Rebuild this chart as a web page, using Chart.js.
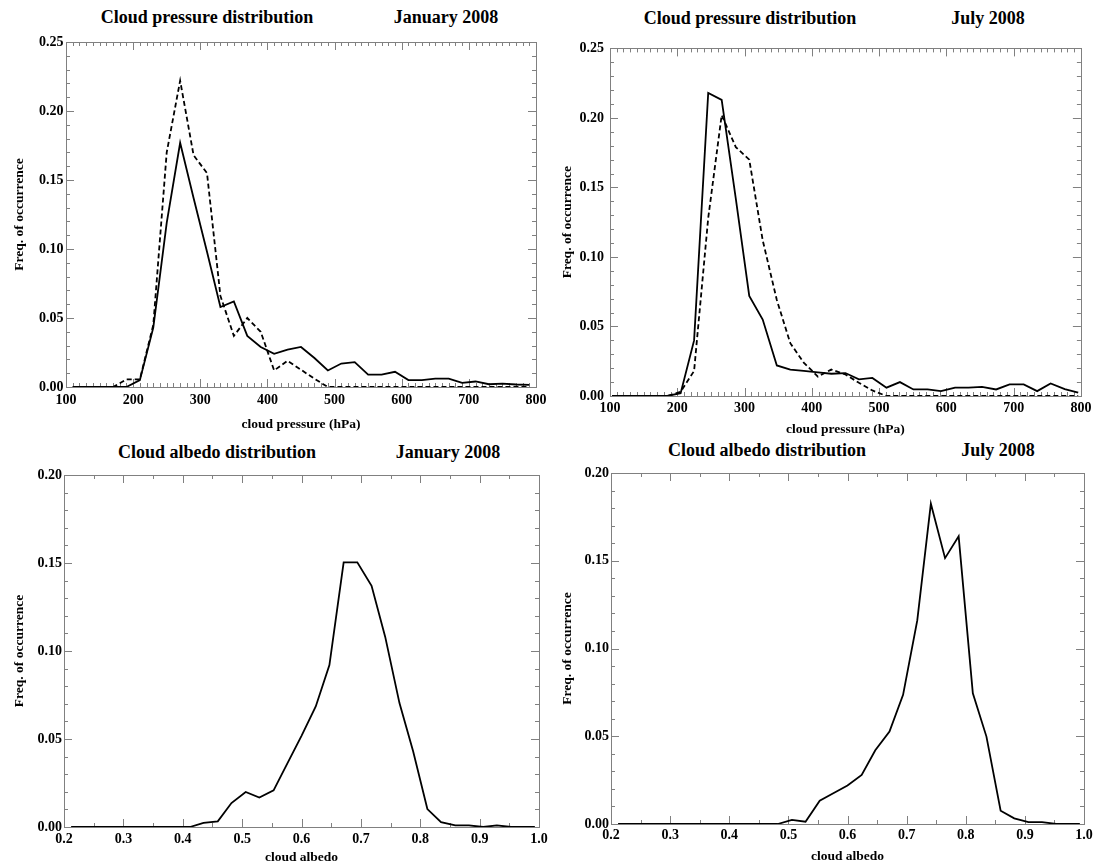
<!DOCTYPE html>
<html lang="en">
<head>
<meta charset="UTF-8">
<title>Cloud pressure / albedo distribution 2008</title>
<script src="https://cdn.jsdelivr.net/npm/chart.js"></script>
<style>
  body { margin: 0; background: #fff; overflow: hidden; width: 1097px; height: 866px; }
  canvas.panel { position: absolute; }
  .title {
    position: absolute;
    font: bold 18px "Liberation Serif", "Times New Roman", serif;
    white-space: nowrap;
    transform: translate(-50%, -50%);
    color: #000;
  }
</style>
</head>
<body>

<div class="title" style="left:207px;top:17px">Cloud pressure distribution</div>
<div class="title" style="left:446px;top:17px">January 2008</div>
<div class="title" style="left:750px;top:18px">Cloud pressure distribution</div>
<div class="title" style="left:988px;top:18px">July 2008</div>
<div class="title" style="left:217px;top:452px">Cloud albedo distribution</div>
<div class="title" style="left:448px;top:452px">January 2008</div>
<div class="title" style="left:767px;top:450px">Cloud albedo distribution</div>
<div class="title" style="left:998px;top:450px">July 2008</div>

<canvas id="pJan" class="panel" width="548" height="403" style="left:4px;top:30px"></canvas>
<canvas id="pJul" class="panel" width="547" height="404" style="left:548px;top:34px"></canvas>
<canvas id="aJan" class="panel" width="553" height="403" style="left:2px;top:463px"></canvas>
<canvas id="aJul" class="panel" width="548" height="404" style="left:549px;top:461px"></canvas>

<script>
  // ---- data ----
  const pressJanX = [110, 130, 150, 170, 190, 210, 230, 250, 270, 290, 310, 330, 350, 370, 390, 410, 430, 450,
                     470, 490, 510, 530, 550, 570, 590, 610, 630, 650, 670, 690, 710, 730, 750, 770, 790];
  const pressJanSolid = [0, 0, 0, 0, 0, 0.005, 0.043, 0.119, 0.177, 0.137, 0.098, 0.058, 0.062, 0.037, 0.029,
                         0.024, 0.027, 0.029, 0.021, 0.012, 0.017, 0.018, 0.009, 0.009, 0.011, 0.005, 0.005,
                         0.006, 0.006, 0.003, 0.004, 0.002, 0.0025, 0.0018, 0.0015];
  const pressJanDash = [0, 0, 0, 0, 0.0055, 0.0055, 0.045, 0.170, 0.222, 0.168, 0.155, 0.066, 0.037, 0.050,
                        0.040, 0.012, 0.019, 0.0125, 0.006, 0, 0, 0, 0, 0, 0, 0, 0, 0, 0, 0, 0, 0, 0, 0, 0];

  const pressJulX = [103, 123, 144, 164, 185, 205, 225, 246, 266, 287, 307, 327, 348, 368, 388, 409, 429, 450,
                     470, 490, 511, 531, 551, 572, 592, 613, 633, 653, 674, 694, 715, 735, 755, 776, 796];
  const pressJulSolid = [0, 0, 0, 0, 0, 0.002, 0.040, 0.218, 0.213, 0.142, 0.072, 0.055, 0.022, 0.019, 0.018,
                         0.017, 0.016, 0.0165, 0.012, 0.013, 0.006, 0.010, 0.0047, 0.0047, 0.0035, 0.006, 0.006,
                         0.0066, 0.0047, 0.0083, 0.0083, 0.0035, 0.009, 0.005, 0.0024];
  const pressJulDash = [0, 0, 0, 0, 0, 0.003, 0.018, 0.128, 0.202, 0.179, 0.170, 0.112, 0.069, 0.038, 0.024,
                        0.014, 0.019, 0.0155, 0.0095, 0.004, 0, 0, 0, 0, 0, 0, 0, 0, 0, 0, 0, 0, 0, 0, 0];

  const albedoX = [0.212, 0.224, 0.247, 0.271, 0.294, 0.318, 0.341, 0.365, 0.388, 0.412, 0.435, 0.459, 0.482,
                   0.506, 0.529, 0.553, 0.576, 0.600, 0.624, 0.647, 0.671, 0.694, 0.718, 0.741, 0.765, 0.788,
                   0.812, 0.835, 0.859, 0.882, 0.906, 0.929, 0.953, 0.976, 0.993];
  const albedoJan = [0, 0, 0, 0, 0, 0, 0, 0, 0, 0, 0.0023, 0.0032, 0.0136, 0.0199, 0.0167, 0.0208, 0.036,
                     0.0518, 0.0685, 0.092, 0.1504, 0.1504, 0.137, 0.108, 0.0704, 0.043, 0.0102, 0.0028,
                     0.0009, 0.0009, 0, 0.0009, 0, 0, 0];
  const albedoJul = [0, 0, 0, 0, 0, 0, 0, 0, 0, 0, 0, 0, 0, 0.0023, 0.0013, 0.0133, 0.0175, 0.0219, 0.028,
                     0.042, 0.0527, 0.0736, 0.116, 0.1825, 0.1515, 0.1639, 0.0745, 0.0498, 0.0076, 0.0032,
                     0.0011, 0.0011, 0, 0, 0];

  const serif = '"Liberation Serif", "Times New Roman", serif';
  const frameGrey = '#808080';

  // IDL style box: grey frame with inward ticks on all four sides
  const frameTicks = {
    id: 'frameTicks',
    beforeDatasetsDraw(chart, args, opts) {
      const {ctx, chartArea: a, scales: {x, y}} = chart;
      ctx.save();
      ctx.strokeStyle = frameGrey;
      ctx.lineWidth = 1;
      ctx.strokeRect(Math.round(a.left) + 0.5, Math.round(a.top) + 0.5,
                     Math.round(a.width), Math.round(a.height));
      ctx.beginPath();
      const nx = Math.round((x.max - x.min) / opts.xMinor);
      const xEvery = Math.round(opts.xMajor / opts.xMinor);
      for (let i = 0; i <= nx; i++) {
        const px = Math.round(x.getPixelForValue(x.min + i * opts.xMinor)) + 0.5;
        const len = i % xEvery === 0 ? 8 : 4;
        ctx.moveTo(px, a.bottom); ctx.lineTo(px, a.bottom - len);
        ctx.moveTo(px, a.top); ctx.lineTo(px, a.top + len);
      }
      const ny = Math.round((y.max - y.min) / opts.yMinor);
      const yEvery = Math.round(opts.yMajor / opts.yMinor);
      for (let i = 0; i <= ny; i++) {
        const py = Math.round(y.getPixelForValue(y.min + i * opts.yMinor)) + 0.5;
        const len = i % yEvery === 0 ? 8 : 4;
        ctx.moveTo(a.left, py); ctx.lineTo(a.left + len, py);
        ctx.moveTo(a.right, py); ctx.lineTo(a.right - len, py);
      }
      ctx.stroke();
      ctx.restore();
    }
  };

  function series(xs, ys, dashed) {
    return {
      data: xs.map((x, i) => ({x: x, y: ys[i]})),
      borderColor: '#000',
      borderWidth: 1.8,
      borderDash: dashed ? [5, 3] : [],
      pointRadius: 0,
      fill: false,
      tension: 0
    };
  }

  function makePanel(id, p) {
    new Chart(document.getElementById(id), {
      type: 'line',
      data: {datasets: p.datasets},
      options: {
        responsive: false,
        animation: false,
        events: [],
        layout: {padding: {top: 12, right: p.padRight, left: 0, bottom: 0}},
        plugins: {
          legend: {display: false},
          tooltip: {enabled: false},
          frameTicks: p.frame
        },
        scales: {
          x: {
            type: 'linear',
            min: p.xMin, max: p.xMax,
            afterFit: s => { s.height = p.xH; },
            grid: {display: false, drawTicks: false},
            border: {display: false},
            ticks: {
              stepSize: p.xStep, padding: p.xPad, color: '#000', maxRotation: 0, autoSkip: false,
              font: {family: serif, size: 14, weight: 'bold'},
              callback: v => v.toFixed(p.xDec)
            },
            title: {
              display: true, text: p.xTitle, color: '#000', padding: {top: 0, bottom: 0},
              font: {family: serif, size: 13.5, weight: 'bold'}
            }
          },
          y: {
            min: 0, max: p.yMax,
            afterFit: s => { s.width = 62; },
            grid: {display: false, drawTicks: false},
            border: {display: false},
            ticks: {
              stepSize: 0.05, padding: p.yPad, color: '#000',
              font: {family: serif, size: 14, weight: 'bold'},
              callback: v => v.toFixed(2)
            },
            title: {
              display: true, text: 'Freq. of occurrence', color: '#000',
              padding: {top: p.yTitlePad, bottom: 0},
              font: {family: serif, size: 13.5, weight: 'bold'}
            }
          }
        }
      },
      plugins: [frameTicks]
    });
  }

  const pressFrame = {xMinor: 10, xMajor: 100, yMinor: 0.01, yMajor: 0.05};
  const albedoFrame = {xMinor: 0.05, xMajor: 0.1, yMinor: 0.01, yMajor: 0.05};

  makePanel('pJan', {
    datasets: [series(pressJanX, pressJanSolid, false), series(pressJanX, pressJanDash, true)],
    xMin: 100, xMax: 800, xStep: 100, xDec: 0, yMax: 0.25,
    xTitle: 'cloud pressure (hPa)', padRight: 16, xH: 46, xPad: 4.6, yPad: 2.5, yTitlePad: 7.2,
    frame: pressFrame
  });
  makePanel('pJul', {
    datasets: [series(pressJulX, pressJulSolid, false), series(pressJulX, pressJulDash, true)],
    xMin: 100, xMax: 800, xStep: 100, xDec: 0, yMax: 0.25,
    xTitle: 'cloud pressure (hPa)', padRight: 14, xH: 42, xPad: 3.6, yPad: 6, yTitlePad: 11.7,
    frame: pressFrame
  });
  makePanel('aJan', {
    datasets: [series(albedoX, albedoJan, false)],
    xMin: 0.2, xMax: 1.0, xStep: 0.1, xDec: 1, yMax: 0.20,
    xTitle: 'cloud albedo', padRight: 16, xH: 39, xPad: 3.6, yPad: 2, yTitlePad: 9.2,
    frame: albedoFrame
  });
  makePanel('aJul', {
    datasets: [series(albedoX, albedoJul, false)],
    xMin: 0.2, xMax: 1.0, xStep: 0.1, xDec: 1, yMax: 0.20,
    xTitle: 'cloud albedo', padRight: 13, xH: 41, xPad: 2.6, yPad: 2, yTitlePad: 10.4,
    frame: albedoFrame
  });
</script>
</body>
</html>
